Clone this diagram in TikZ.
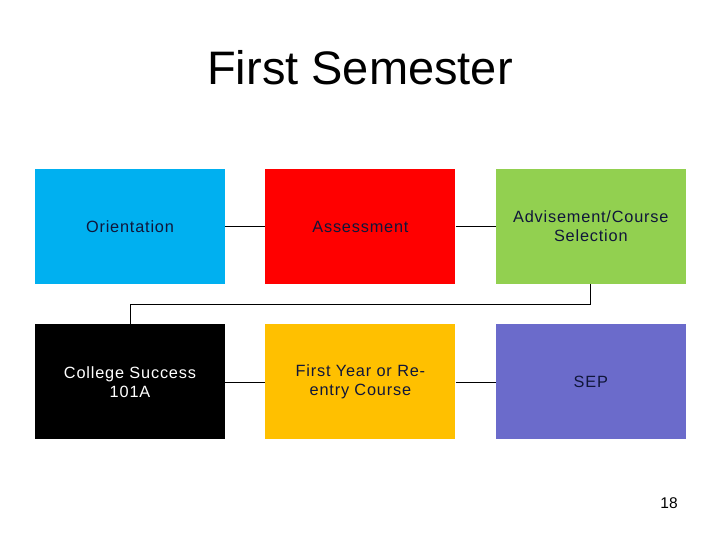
\documentclass[tikz,border=0pt]{standalone}
\usepackage{fontspec}
\setmainfont{Liberation Sans}
\newfontfamily\boxfont[LetterSpace=5]{Liberation Sans}
\usetikzlibrary{positioning}
\definecolor{Sky}{HTML}{00B0F0}
\definecolor{Scarlet}{HTML}{FF0000}
\definecolor{Lime}{HTML}{92D050}
\definecolor{Amber}{HTML}{FFC000}
\definecolor{Lilac}{HTML}{6B6BCB}
\definecolor{Ink}{HTML}{10163A}
\tikzset{
    stagebox/.style={rectangle, minimum width=190bp, minimum height=115bp, inner sep=0pt, align=center, text=Ink, font=\boxfont\fontsize{16.3bp}{19bp}\selectfont},
    link/.style={line width=0.8bp, color=black},
}
\begin{document}
\begin{tikzpicture}[x=1bp, y=-1bp, node distance=40bp and 40bp]

            % Cornice della pagina
            \useasboundingbox (0,0) rectangle (720,540);

            % Titolo
            \node[font=\fontsize{47bp}{52bp}\selectfont] (title) at (360,68) {First Semester};

            % Prima riga
            \node[stagebox, fill=Sky] (orient) at (130,226.5) {Orientation};
            \node[stagebox, fill=Scarlet, right=of orient] (assess) {Assessment};
            \node[stagebox, fill=Lime, right=of assess] (advise) {Advisement/Course\\Selection};

            % Seconda riga
            \node[stagebox, fill=black, text=white, below=of orient] (college) {College Success\\101A};
            \node[stagebox, fill=Amber, right=of college] (firstyear) {First Year or Re-\\entry Course};
            \node[stagebox, fill=Lilac, right=of firstyear] (sep) {SEP};

            % Collegamenti
            \draw[link] (orient) -- (assess);
            \draw[link] (assess) -- (advise);
            \draw[link] (advise.south) -- ++(0,20) -| (college.north);
            \draw[link] (college) -- (firstyear);
            \draw[link] (firstyear) -- (sep);

            % Numero di pagina
            \node[font=\fontsize{15.5bp}{18bp}\selectfont] (pagenum) at (669,503.5) {18};
        \end{tikzpicture}
\end{document}
